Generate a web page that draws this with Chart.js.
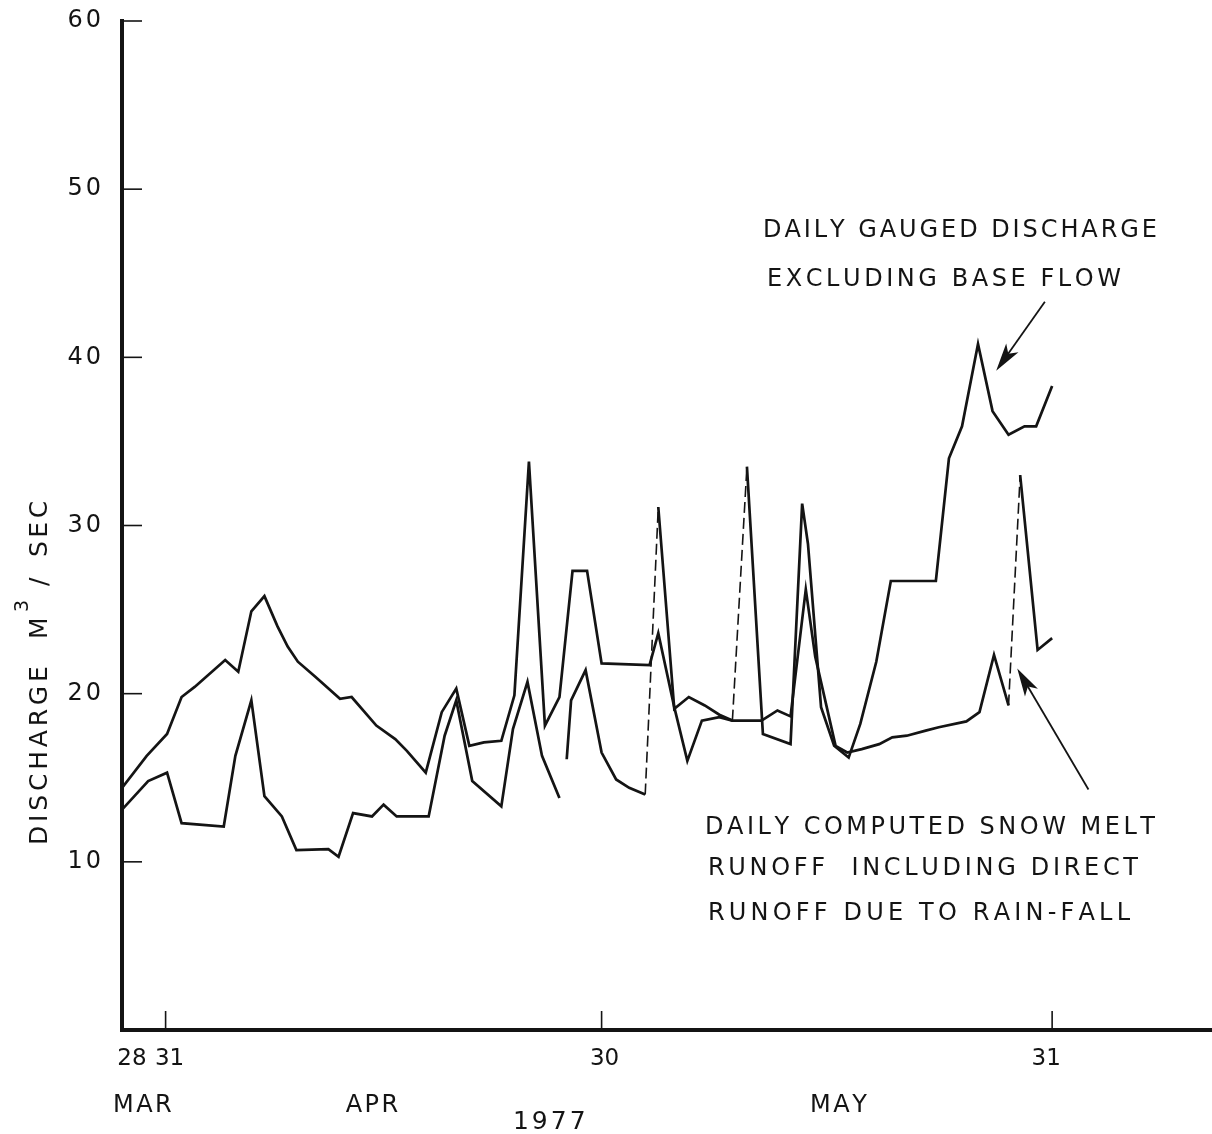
<!DOCTYPE html>
<html>
<head>
<meta charset="utf-8">
<script src="https://cdn.jsdelivr.net/npm/chart.js@4/dist/chart.umd.min.js"></script>
<style>
  html, body { margin: 0; padding: 0; background: #fff; }
  canvas { display: block; }
</style>
</head>
<body>
<canvas id="c" width="1212" height="1134"></canvas>
<script>
// Days counted from 28 March 1977 (day 0); discharge in m3/sec.
const gaugedDay = [0.0, 1.7, 3.1, 4.1, 5.0, 7.1, 8.0, 8.9, 9.8, 10.7, 11.4, 12.1, 13.3, 15.0, 15.8,
  17.5, 18.8, 19.6, 20.9, 22.0, 23.0, 23.9, 24.9, 26.1, 27.0, 28.0, 29.1, 30.1, 31.0, 32.0,
  33.0, 36.3, 36.9, 38.0, 38.9, 39.9, 41.1, 42.0, 43.0, 44.1, 46.0, 46.8, 47.2, 48.1, 49.0,
  50.0, 50.8, 51.9, 52.9, 56.0, 56.9, 57.8, 58.9, 59.9, 61.0, 62.1, 62.9, 64.0];
const gaugedQ = [14.4, 16.3, 17.6, 19.8, 20.4, 22.0, 21.3, 24.9, 25.8, 24.0, 22.8, 21.9, 21.0, 19.7, 19.8,
  18.1, 17.3, 16.6, 15.3, 18.9, 20.3, 16.9, 17.1, 17.2, 19.9, 33.8, 18.1, 19.8, 27.3, 27.3,
  21.8, 21.7, 23.6, 19.2, 16.0, 18.4, 18.6, 18.4, 33.5, 17.6, 17.0, 31.3, 28.9, 19.2, 16.9,
  16.2, 18.2, 21.9, 26.7, 26.7, 34.0, 35.9, 40.8, 36.8, 35.4, 35.9, 35.9, 38.3];

const computedDay = [0.0, 1.8, 3.1, 4.1, 7.0, 7.8, 8.9, 9.8, 11.0, 12.0, 14.2, 14.9, 15.9, 17.2, 18.0,
  18.9, 21.1, 22.2, 23.0, 24.1, 26.1, 26.9, 27.9, 28.9, 30.1, 30.35, 30.6, 30.9, 31.9, 33.0,
  34.0, 34.9, 36.0, 36.9, 38.0, 39.0, 40.1, 41.1, 42.0, 44.0, 45.1, 46.0, 47.05, 47.7, 49.1,
  49.9, 50.9, 52.1, 53.0, 54.0, 55.3, 56.2, 58.1, 59.0, 60.0, 61.0, 61.8, 63.0, 64.0];
const computedQ = [13.1, 14.8, 15.3, 12.3, 12.1, 16.3, 19.6, 13.9, 12.7, 10.7, 10.75, 10.3, 12.9, 12.7, 13.4,
  12.7, 12.7, 17.5, 19.6, 14.8, 13.3, 17.9, 20.7, 16.3, 13.8, null, 16.1, 19.6, 21.4, 16.5,
  14.9, 14.4, 14.0, 31.1, 19.1, 19.8, 19.3, 18.75, 18.4, 18.4, 19.0, 18.65, 26.2, 22.2, 16.9,
  16.5, 16.7, 17.0, 17.4, 17.5, 17.8, 18.0, 18.35, 18.9, 22.3, 19.3, 33.0, 22.6, 23.3];

// Faint (broken) pen strokes: the segment starting at each of these days
const gaugedFaintFrom = [42.0];
const computedFaintFrom = [36.0, 61.0];

// Axis ticks
const yTickValues = [10, 20, 30, 40, 50, 60];
const xTickDays = [3, 33, 64];
const xLabelDays = [0, 3, 33, 64];
const xLabels = ['28', '31', '30', '31'];
const monthLabels = ['MAR', 'APR', 'MAY'];
const yearLabel = '1977';

const INK = '#141414';
const FONT = '"DejaVu Sans", "Liberation Sans", sans-serif';

function pts(days, vals) {
  return days.map((d, i) => ({ x: d, y: vals[i] }));
}

// Draw text letter by letter with extra tracking; align: left | center | right
function drawSpaced(ctx, text, x, y, size, spacing, align) {
  ctx.font = size + 'px ' + FONT;
  ctx.textBaseline = 'middle';
  ctx.textAlign = 'left';
  const widths = [...text].map(ch => ctx.measureText(ch).width);
  const total = widths.reduce((s, w) => s + w, 0) + spacing * (widths.length - 1);
  let cx = align === 'center' ? x - total / 2 : align === 'right' ? x - total : x;
  [...text].forEach((ch, i) => { ctx.fillText(ch, cx, y); cx += widths[i] + spacing; });
  return total;
}

// Draw text stretched (by tracking) to span from left to right
function drawFit(ctx, text, left, right, y, size) {
  ctx.font = size + 'px ' + FONT;
  const chars = [...text];
  const natural = chars.reduce((s, ch) => s + ctx.measureText(ch).width, 0);
  const spacing = (right - left - natural) / (chars.length - 1);
  drawSpaced(ctx, text, left, y, size, spacing, 'left');
}

function arrow(ctx, x0, y0, x1, y1) {
  const ang = Math.atan2(y1 - y0, x1 - x0);
  const len = 28, half = 7.5;
  ctx.lineWidth = 1.8;
  ctx.beginPath();
  ctx.moveTo(x0, y0);
  ctx.lineTo(x1 - Math.cos(ang) * len * 0.6, y1 - Math.sin(ang) * len * 0.6);
  ctx.stroke();
  ctx.beginPath();
  ctx.moveTo(x1, y1);
  ctx.lineTo(x1 - Math.cos(ang) * len - Math.sin(ang) * half, y1 - Math.sin(ang) * len + Math.cos(ang) * half);
  ctx.lineTo(x1 - Math.cos(ang) * len * 0.75, y1 - Math.sin(ang) * len * 0.75);
  ctx.lineTo(x1 - Math.cos(ang) * len + Math.sin(ang) * half, y1 - Math.sin(ang) * len - Math.cos(ang) * half);
  ctx.closePath();
  ctx.fill();
}

const overlay = {
  id: 'overlay',
  afterDraw(chart) {
    const { ctx, chartArea: a, scales: { x, y } } = chart;
    ctx.save();
    ctx.strokeStyle = INK;
    ctx.fillStyle = INK;

    // y ticks (pointing into the plot) and their labels
    ctx.lineWidth = 1.6;
    yTickValues.forEach(v => {
      const py = y.getPixelForValue(v);
      ctx.beginPath(); ctx.moveTo(a.left, py); ctx.lineTo(a.left + 20, py); ctx.stroke();
      drawSpaced(ctx, String(v), a.left - 21, py, 24, 3, 'right');
    });

    // x ticks rising from the axis
    xTickDays.forEach(d => {
      const px = x.getPixelForValue(d);
      ctx.beginPath(); ctx.moveTo(px, a.bottom); ctx.lineTo(px, a.bottom - 19); ctx.stroke();
    });

    // day labels
    const dayShift = [10, 4, 3, -6];
    xLabelDays.forEach((d, i) => {
      drawSpaced(ctx, xLabels[i], x.getPixelForValue(d) + dayShift[i], a.bottom + 29, 23, 0, 'center');
    });

    // month and year labels
    const monthAt = [1.4, 17.2, 49.3];
    monthLabels.forEach((m, i) => {
      drawSpaced(ctx, m, x.getPixelForValue(monthAt[i]), a.bottom + 76, 24, 2.5, 'center');
    });
    drawSpaced(ctx, yearLabel, x.getPixelForValue(29.4), a.bottom + 92, 25, 3, 'center');

    // y-axis title, reading upward
    ctx.save();
    ctx.translate(40, 675);
    ctx.rotate(-Math.PI / 2);
    drawSpaced(ctx, 'DISCHARGE', -170, 0, 25, 3.8, 'left');
    drawSpaced(ctx, 'M', 36, 0, 25, 0, 'left');
    drawSpaced(ctx, '3', 63, -17, 19, 0, 'left');
    drawSpaced(ctx, '/', 89, 0, 25, 0, 'left');
    drawSpaced(ctx, 'SEC', 118, 0, 25, 3.5, 'left');
    ctx.restore();

    // annotations
    drawFit(ctx, 'DAILY GAUGED DISCHARGE', 763, 1157, 231, 24);
    drawFit(ctx, 'EXCLUDING BASE FLOW', 767, 1121, 280, 24);
    drawFit(ctx, 'DAILY COMPUTED SNOW MELT', 705, 1155, 828, 24);
    drawFit(ctx, 'RUNOFF  INCLUDING DIRECT', 708, 1138, 869, 24);
    drawFit(ctx, 'RUNOFF DUE TO RAIN-FALL', 708, 1130, 914, 24);

    arrow(ctx, x.getPixelForValue(63.5), y.getPixelForValue(43.3), x.getPixelForValue(60.15), y.getPixelForValue(39.2));
    arrow(ctx, x.getPixelForValue(66.5), y.getPixelForValue(14.3), x.getPixelForValue(61.6), y.getPixelForValue(21.5));

    ctx.restore();
  }
};

function faint(list) {
  return {
    borderDash: c => list.includes(c.p0.parsed.x) ? [11, 5] : undefined,
    borderWidth: c => list.includes(c.p0.parsed.x) ? 1.6 : undefined
  };
}

new Chart(document.getElementById('c'), {
  type: 'line',
  data: {
    datasets: [
      {
        label: 'Daily gauged discharge excluding base flow',
        data: pts(gaugedDay, gaugedQ),
        borderColor: INK, borderWidth: 2.7, pointRadius: 0, tension: 0,
        spanGaps: false, segment: faint(gaugedFaintFrom)
      },
      {
        label: 'Daily computed snow melt runoff including direct runoff due to rain-fall',
        data: pts(computedDay, computedQ),
        borderColor: INK, borderWidth: 2.7, pointRadius: 0, tension: 0,
        spanGaps: false, segment: faint(computedFaintFrom)
      }
    ]
  },
  options: {
    responsive: false,
    animation: false,
    layout: { padding: { top: 21, right: 0, bottom: 0, left: 0 } },
    plugins: { legend: { display: false }, tooltip: { enabled: false } },
    scales: {
      x: {
        type: 'linear', min: 0, max: 75,
        grid: { display: false },
        ticks: { display: false },
        border: { display: true, width: 4, color: INK },
        afterFit: s => { s.height = 104; }
      },
      y: {
        min: 0, max: 60,
        grid: { display: false },
        ticks: { display: false, stepSize: 10 },
        border: { display: true, width: 4, color: INK },
        afterFit: s => { s.width = 122; }
      }
    }
  },
  plugins: [overlay]
});
</script>
</body>
</html>
